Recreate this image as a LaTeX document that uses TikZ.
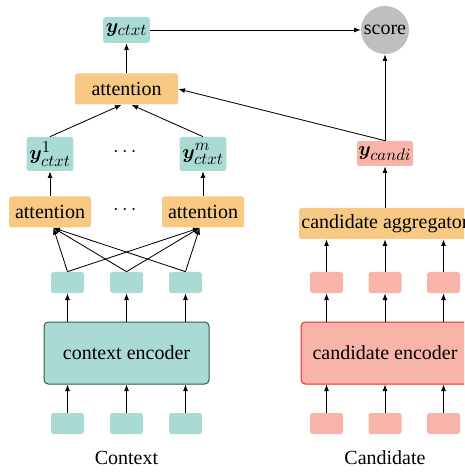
\documentclass[tikz,border=0pt]{standalone}
\usepackage{amsmath,bm}
\usepackage{fontspec}
\setmainfont{Liberation Serif}
\DeclareMathSizes{12}{12}{10}{8}
\usetikzlibrary{arrows.meta}

\definecolor{tealbox}{HTML}{A9DBD4}
\definecolor{orangebox}{HTML}{F7C984}
\definecolor{pinkbox}{HTML}{F9B4A9}
\definecolor{greyball}{HTML}{BFBFBF}
\definecolor{encgreen}{HTML}{2F5E3E}
\definecolor{encred}{HTML}{E52A2A}

\begin{document}
\begin{tikzpicture}[x=0.6pt,y=-0.6pt]

\tikzset{
box/.style={rectangle,rounded corners=1.5pt,inner sep=1pt},
tealsmall/.style={box,fill=tealbox,minimum width=19.8pt,minimum height=12.6pt},
pinksmall/.style={box,fill=pinkbox,minimum width=19.8pt,minimum height=12.6pt},
vecbox/.style={box,fill=tealbox,minimum width=28pt,minimum height=15.6pt},
attnbox/.style={box,fill=orangebox,minimum height=18.6pt},
encbox/.style={box,rounded corners=2.5pt,minimum height=37.2pt,line width=0.6pt},
edge/.style={-{Latex[length=4pt,width=3pt]},line width=0.5pt},
font={\fontsize{12pt}{14}\selectfont}
}
\clip (0,0) rectangle (464,472);

% context side
\node[vecbox] (ctxt) at (126.5,30) {$\bm{y}_{ctxt}$};
\node[attnbox,minimum width=61.8pt] (attn) at (126.5,89) {attention};
\node[vecbox,minimum height=20.4pt] (yone) at (50,154) {$\bm{y}^{1}_{ctxt}$};
\node[vecbox,minimum height=20.4pt] (ym) at (203,154) {$\bm{y}^{m}_{ctxt}$};
\node (dotsy) at (126.5,152) {$\cdots$};
\node[attnbox,minimum width=49.2pt] (attnone) at (50,212) {attention};
\node[attnbox,minimum width=49.2pt] (attnm) at (203,212) {attention};
\node (dotsa) at (126.5,210) {$\cdots$};
\node[tealsmall] (h1) at (67.5,282.5) {};
\node[tealsmall] (h2) at (126.5,282.5) {};
\node[tealsmall] (h3) at (185.5,282.5) {};
\node[encbox,fill=tealbox,draw=encgreen,minimum width=99pt] (cenc) at (126.5,353) {context encoder};
\node[tealsmall] (w1) at (67.5,423.5) {};
\node[tealsmall] (w2) at (126.5,423.5) {};
\node[tealsmall] (w3) at (185.5,423.5) {};
\node (ctxtlabel) at (126.5,458) {Context};

% candidate side
\node[circle,fill=greyball,inner sep=1pt,minimum size=28.8pt] (score) at (385,30) {score};
\node[box,fill=pinkbox,minimum width=33.6pt,minimum height=15pt] (candi) at (385,153.5) {$\bm{y}_{candi}$};
\node[attnbox,minimum width=103.2pt] (agg) at (385,223.5) {candidate aggregator};
\node[pinksmall] (g1) at (326.5,282.5) {};
\node[pinksmall] (g2) at (385,282.5) {};
\node[pinksmall] (g3) at (443.5,282.5) {};
\node[encbox,fill=pinkbox,draw=encred,minimum width=100.8pt] (denc) at (385,353) {candidate encoder};
\node[pinksmall] (v1) at (326.5,423.5) {};
\node[pinksmall] (v2) at (385,423.5) {};
\node[pinksmall] (v3) at (443.5,423.5) {};
\node (candlabel) at (385,458) {Candidate};

%edges
\path[edge]
(w1) edge (cenc.south -| w1)
(w2) edge (cenc.south -| w2)
(w3) edge (cenc.south -| w3)
(cenc.north -| h1) edge (h1)
(cenc.north -| h2) edge (h2)
(cenc.north -| h3) edge (h3)

(h1.north) edge ([xshift=2pt]attnone.south)
(h2.north) edge ([xshift=2pt]attnone.south)
(h3.north) edge ([xshift=2pt]attnone.south)
(h1.north) edge ([xshift=-2pt]attnm.south)
(h2.north) edge ([xshift=-2pt]attnm.south)
(h3.north) edge ([xshift=-2pt]attnm.south)

(attnone) edge (yone)
(attnm) edge (ym)
(yone.north) edge ([xshift=-3pt]attn.south)
(ym.north) edge ([xshift=3pt]attn.south)
(attn) edge (ctxt)
(ctxt) edge (score)

(v1) edge (denc.south -| v1)
(v2) edge (denc.south -| v2)
(v3) edge (denc.south -| v3)
(denc.north -| g1) edge (g1)
(denc.north -| g2) edge (g2)
(denc.north -| g3) edge (g3)
(g1) edge (agg.south -| g1)
(g2) edge (agg.south -| g2)
(g3) edge (agg.south -| g3)
(agg) edge (candi)
(candi) edge (score)
(candi.north) edge (attn.east)
;

\end{tikzpicture}
\end{document}
